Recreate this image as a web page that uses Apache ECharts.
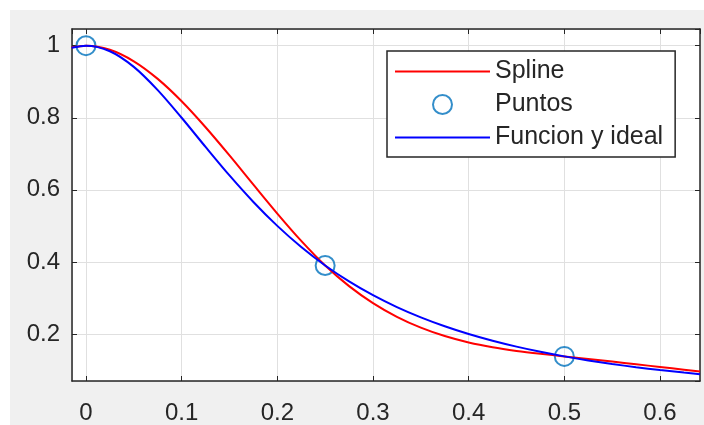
<!DOCTYPE html>
<html>
<head>
<meta charset="utf-8">
<script src="https://cdn.jsdelivr.net/npm/echarts@6/dist/echarts.min.js"></script>
<style>
html,body{margin:0;padding:0;background:#fff;width:704px;height:425px;overflow:hidden;}
#bg{position:absolute;left:10px;top:10px;width:694px;height:415px;background:#f0f0f0;}
#c{position:absolute;left:0;top:0;width:704px;height:425px;}
</style>
</head>
<body>
<div id="bg"></div>
<div id="c"></div>
<script>
// Sample positions along x
const xValues = [-0.015, 0, 0.025, 0.05, 0.075, 0.1, 0.125, 0.15, 0.175, 0.2, 0.225, 0.25, 0.275, 0.3, 0.325, 0.35, 0.375, 0.4, 0.425, 0.45, 0.475, 0.5, 0.525, 0.55, 0.575, 0.6, 0.625, 0.6418];
// Red curve "Spline"
const splineValues = [0.9956, 1, 0.9886, 0.9567, 0.9079, 0.8458, 0.7737, 0.6955, 0.6144, 0.5342, 0.4583, 0.3902, 0.3329, 0.2858, 0.2477, 0.2176, 0.1943, 0.1765, 0.1632, 0.1531, 0.1450, 0.1379, 0.1308, 0.1235, 0.1160, 0.1085, 0.1010, 0.0961];
// Blue curve "Funcion y ideal"
const idealValues = [0.9944, 1, 0.9846, 0.9412, 0.8767, 0.8, 0.7191, 0.64, 0.5664, 0.5, 0.4414, 0.3902, 0.3460, 0.3077, 0.2747, 0.2462, 0.2215, 0.2, 0.1813, 0.1650, 0.1506, 0.1379, 0.1267, 0.1168, 0.1079, 0.1, 0.0929, 0.0885];
// Circles "Puntos"
const pointX = [0, 0.25, 0.5];
const pointY = [1, 0.3902, 0.1379];
// Axis ranges and tick labels
const xRange = [-0.0146, 0.6418];
const yRange = [0.0696, 1.0463];
const xTickLabels = ['0', '0.1', '0.2', '0.3', '0.4', '0.5', '0.6'];
const yTickLabels = ['0.2', '0.4', '0.6', '0.8', '1'];
const seriesNames = ['Spline', 'Puntos', 'Funcion y ideal'];

const FONT = 'Liberation Sans';
const AX = '#262626';

function pairs(xs, ys) { return xs.map((x, i) => [x, ys[i]]); }

function labelFmt(list) {
  return function (v) {
    const s = String(Math.round(v * 1000) / 1000);
    return list.indexOf(s) >= 0 ? s : '';
  };
}

const chart = echarts.init(document.getElementById('c'), null, {renderer: 'canvas'});
const axisLineStyle = {color: AX, width: 1.5};
const tickStyle = {color: AX, width: 1};
const gridLine = {show: true, lineStyle: {color: '#e0e0e0', width: 1}};
const lineIcon = 'path://M0,0H95V2H0Z';

chart.setOption({
  animation: false,
  backgroundColor: 'transparent',
  grid: {left: 72, right: 4, top: 29, bottom: 44, show: true, backgroundColor: '#ffffff', borderWidth: 0},
  legend: {
    orient: 'vertical', left: 387, top: 51,
    padding: [8, 12, 7, 8], itemGap: 8, itemWidth: 95, itemHeight: 19,
    backgroundColor: '#ffffff', borderColor: AX, borderWidth: 1.5, borderRadius: 0,
    textStyle: {fontSize: 25, color: AX, fontFamily: FONT},
    data: [
      {name: seriesNames[0], icon: lineIcon},
      {name: seriesNames[1]},
      {name: seriesNames[2], icon: lineIcon}
    ]
  },
  xAxis: [
    {type: 'value', min: xRange[0], max: xRange[1], position: 'bottom', splitNumber: 6,
     axisLine: {show: true, onZero: false, lineStyle: axisLineStyle},
     axisTick: {show: true, inside: true, length: 5, lineStyle: tickStyle},
     axisLabel: {show: true, fontSize: 24, color: AX, fontFamily: FONT, margin: 20,
                 showMinLabel: false, showMaxLabel: false, formatter: labelFmt(xTickLabels)},
     splitLine: gridLine},
    {type: 'value', min: xRange[0], max: xRange[1], position: 'top', splitNumber: 6,
     axisLine: {show: true, onZero: false, lineStyle: axisLineStyle},
     axisTick: {show: true, inside: true, length: 5, lineStyle: tickStyle},
     axisLabel: {show: false}, splitLine: {show: false}}
  ],
  yAxis: [
    {type: 'value', min: yRange[0], max: yRange[1], position: 'left', splitNumber: 5,
     axisLine: {show: true, onZero: false, lineStyle: axisLineStyle},
     axisTick: {show: true, inside: true, length: 5, lineStyle: tickStyle},
     axisLabel: {show: true, fontSize: 24, color: AX, fontFamily: FONT, margin: 12,
                 showMinLabel: false, showMaxLabel: false, formatter: labelFmt(yTickLabels)},
     splitLine: gridLine},
    {type: 'value', min: yRange[0], max: yRange[1], position: 'right', splitNumber: 5,
     axisLine: {show: true, onZero: false, lineStyle: axisLineStyle},
     axisTick: {show: true, inside: true, length: 5, lineStyle: tickStyle},
     axisLabel: {show: false}, splitLine: {show: false}}
  ],
  series: [
    {name: seriesNames[0], type: 'line', xAxisIndex: 0, yAxisIndex: 0,
     data: pairs(xValues, splineValues), symbol: 'none', smooth: 0.3,
     lineStyle: {color: '#ff0000', width: 2}, itemStyle: {color: '#ff0000'}, clip: true},
    {name: seriesNames[1], type: 'scatter', xAxisIndex: 0, yAxisIndex: 0,
     data: pairs(pointX, pointY), symbol: 'circle', symbolSize: 19,
     itemStyle: {color: 'rgba(0,0,0,0)', borderColor: '#0072BD', borderWidth: 2}},
    {name: seriesNames[2], type: 'line', xAxisIndex: 0, yAxisIndex: 0,
     data: pairs(xValues, idealValues), symbol: 'none', smooth: 0.3,
     lineStyle: {color: '#0000ff', width: 2}, itemStyle: {color: '#0000ff'}, clip: true}
  ]
});
</script>
</body>
</html>
